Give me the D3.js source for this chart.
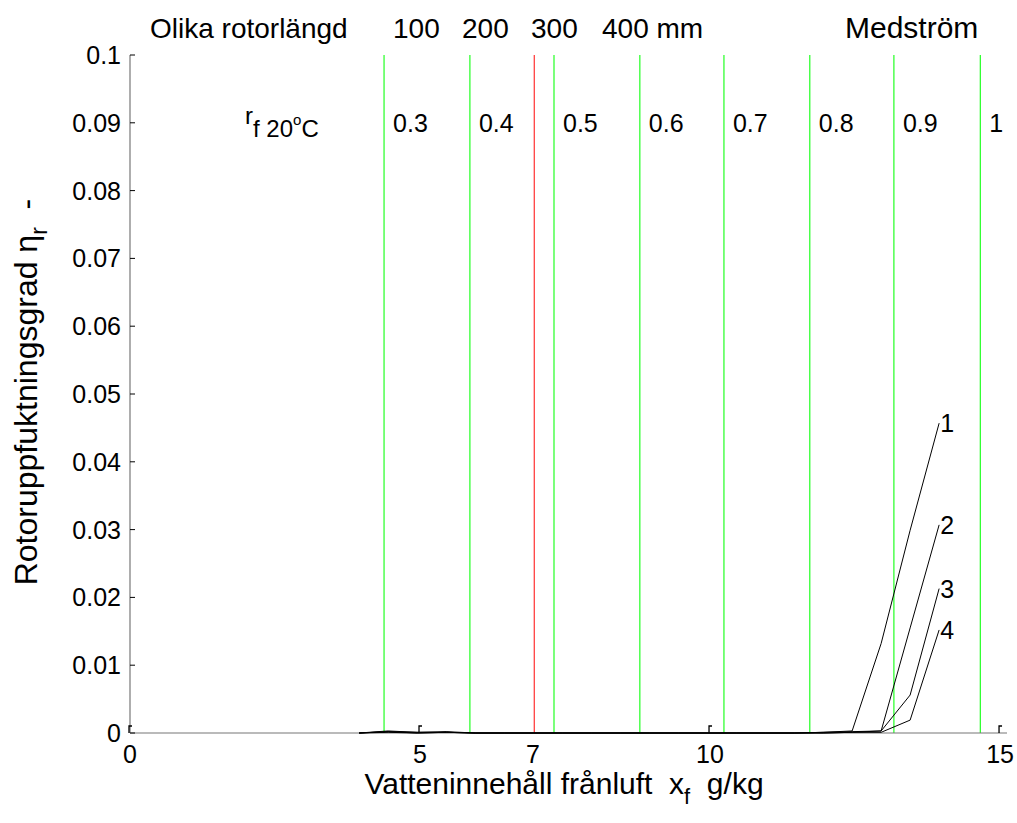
<!DOCTYPE html>
<html><head><meta charset="utf-8">
<script src="https://cdn.jsdelivr.net/npm/d3@7"></script>
<style>
body{margin:0;background:#fff;}
text{font-family:"Liberation Sans",Arial,sans-serif;white-space:pre;}
</style></head>
<body><svg id="c" width="1017" height="823"></svg>
<script>
// ---- data ----
const xTicks = [0, 5, 7, 10, 15];
const yTicks = [0, 0.01, 0.02, 0.03, 0.04, 0.05, 0.06, 0.07, 0.08, 0.09, 0.1];
const yTickLabels = ["0","0.01","0.02","0.03","0.04","0.05","0.06","0.07","0.08","0.09","0.1"];
const rfValues = ["0.3","0.4","0.5","0.6","0.7","0.8","0.9","1"];
const rfLineX = [4.38, 5.86, 7.31, 8.79, 10.24, 11.72, 13.17, 14.66];
const redLineX = [6.97];
const rotorLengths = ["100", "200", "300", "400 mm"];
const xs = [3.95,4.45,4.95,5.45,5.95,6.45,6.95,7.45,7.95,8.45,8.95,9.45,9.95,10.45,10.95,11.45,11.95,12.45,12.95,13.45,13.95];
const curve1 = [0,0.0003,0.0001,0.0002,0,0,0,0,0,0,0,0,0,0,0,0,0.0001,0.0003,0.0132,0.0299,0.0457];
const curve2 = [0,0.0002,0.0001,0.0001,0,0,0,0,0,0,0,0,0,0,0,0,0.0001,0.0002,0.0003,0.0155,0.0307];
const curve3 = [0,0.0002,0,0.0001,0,0,0,0,0,0,0,0,0,0,0,0,0,0.0001,0.0003,0.0056,0.0213];
const curve4 = [0,0.0001,0,0.0001,0,0,0,0,0,0,0,0,0,0,0,0,0,0.0001,0.0001,0.0019,0.0152];
const curveNames = ["1","2","3","4"];

// ---- layout ----
const svg = d3.select("#c");
const x = d3.scaleLinear().domain([0, 15.12]).range([130, 1007]);
const y = d3.scaleLinear().domain([0, 0.1]).range([733, 55]);
const fs = 25;

// vertical reference lines
svg.selectAll("line.g").data(rfLineX).enter().append("line")
  .attr("x1", d => x(d)).attr("x2", d => x(d)).attr("y1", y(0.1)).attr("y2", y(0))
  .attr("stroke", "#22ff22").attr("stroke-width", 1.2);
svg.selectAll("line.r").data(redLineX).enter().append("line")
  .attr("x1", d => x(d)).attr("x2", d => x(d)).attr("y1", y(0.1)).attr("y2", y(0))
  .attr("stroke", "#ff3030").attr("stroke-width", 1.2);

// axes lines
svg.append("line").attr("x1", x(0)).attr("x2", x(0)).attr("y1", y(0.1)).attr("y2", y(0))
  .attr("stroke", "#777").attr("stroke-width", 1.2);
svg.append("line").attr("x1", x(0)).attr("x2", x(15.12)).attr("y1", y(0)).attr("y2", y(0))
  .attr("stroke", "#777").attr("stroke-width", 1.2);

// y ticks
const yg = svg.append("g");
yTicks.forEach((t, i) => {
  yg.append("line").attr("x1", x(0)).attr("x2", x(0) + 5).attr("y1", y(t)).attr("y2", y(t))
    .attr("stroke", "#000").attr("stroke-width", 1);
  yg.append("text").attr("x", 121).attr("y", y(t)).attr("dy", "0.36em")
    .attr("text-anchor", "end").attr("font-size", fs).text(yTickLabels[i]);
});
// x ticks
const xg = svg.append("g");
xTicks.forEach(t => {
  if (t !== 7) {
    xg.append("path").attr("d", `M${x(t)-1},${y(0)}V${y(0)-7}h3`)
      .attr("fill", "none").attr("stroke", "#000").attr("stroke-width", 1.3);
  }
  xg.append("text").attr("x", x(t) - (t === 7 ? 3 : 0)).attr("y", 763)
    .attr("text-anchor", "middle").attr("font-size", fs).text(t);
});

// curves
const line = d3.line().x((d, i) => x(xs[i])).y(d => y(d));
[curve1, curve2, curve3, curve4].forEach((c, k) => {
  svg.append("path").datum(c).attr("d", line)
    .attr("fill", "none").attr("stroke", "#000").attr("stroke-width", 1);
  svg.append("text").attr("x", x(xs[xs.length - 1]) + 1).attr("y", y(c[c.length - 1]))
    .attr("dy", "0.36em").attr("font-size", fs).text(curveNames[k]);
});

// rf labels
rfValues.forEach((v, i) => {
  svg.append("text").attr("x", x(rfLineX[i]) + 9).attr("y", y(0.09)).attr("dy", "0.36em")
    .attr("font-size", fs).text(v);
});
const rf = svg.append("text").attr("x", 245).attr("y", 124).attr("font-size", 24);
rf.append("tspan").text("r");
rf.append("tspan").attr("dy", 13).text("f 20");
rf.append("tspan").attr("dy", -12).attr("font-size", 15).text("o");
rf.append("tspan").attr("dy", 12).text("C");

// top titles
const tt = svg.append("text").attr("y", 38).attr("font-size", 28);
tt.append("tspan").attr("x", 150).text("Olika rotorlängd");
const rlX = [393, 462, 531, 602];
rotorLengths.forEach((s, i) => tt.append("tspan").attr("x", rlX[i]).text(s));
svg.append("text").attr("x", 845).attr("y", 38).attr("font-size", 30).text("Medström");

// axis labels
const xl = svg.append("text").attr("x", 564).attr("y", 794).attr("text-anchor", "middle").attr("font-size", 30);
xl.append("tspan").text("Vatteninnehåll frånluft  x");
xl.append("tspan").attr("dy", 10).attr("font-size", 22).text("f");
xl.append("tspan").attr("dy", -10).text("  g/kg");

const yl = svg.append("text").attr("transform", "translate(37,392) rotate(-90)")
  .attr("text-anchor", "middle").attr("font-size", 32);
yl.append("tspan").text("Rotoruppfuktningsgrad η");
yl.append("tspan").attr("dy", 10).attr("font-size", 23).text("r");
yl.append("tspan").attr("dy", -10).text("  -");
</script></body></html>
